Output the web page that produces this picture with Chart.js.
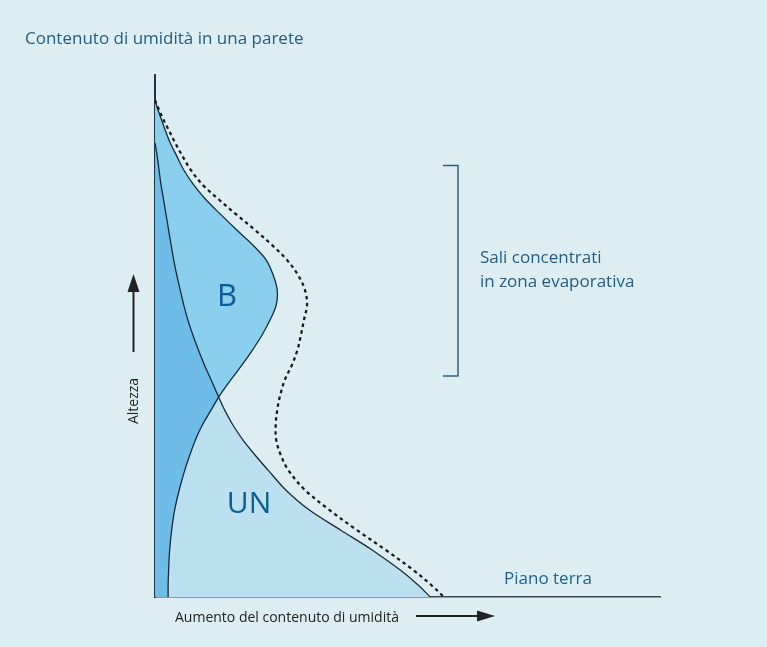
<!DOCTYPE html>
<html>
<head>
<meta charset="utf-8">
<script src="https://cdn.jsdelivr.net/npm/chart.js@4.4.1/dist/chart.umd.min.js"></script>
<style>
  html, body { margin: 0; padding: 0; background: #ddeef3; }
  #wrap { width: 767px; height: 647px; position: relative; }
  canvas { display: block; background: #ddeef3; }
</style>
</head>
<body>
<div id="wrap"><canvas id="c" width="767" height="647"></canvas></div>
<script>
// Heights (0 = ground, 100 = top of the axis)
const altezza = [95.2, 93.3, 91.4, 89.5, 87.0, 84.7, 81.8, 78.9, 76.1, 73.2, 70.3, 67.4,
  64.6, 61.7, 58.8, 55.9, 53.1, 50.2, 47.3, 44.4, 41.6, 38.3, 35.8, 33.0, 30.1, 27.2,
  24.3, 20.5, 16.7, 12.8, 9.0, 5.2, 2.3, 0];
// Moisture content, curve B (salts concentrated in evaporation zone)
const umiditaB = [0, 0.6, 1.3, 2.0, 3.0, 4.2, 5.7, 7.7, 10.1, 13.1, 16.2, 19.4,
  22.0, 23.4, 24.2, 24.0, 22.8, 21.2, 19.3, 17.2, 15.0, 12.6, 11.1, 9.4, 8.0, 6.9,
  5.9, 4.8, 3.9, 3.3, 2.9, 2.7, 2.6, 2.6];
// Moisture content, curve UN
const umiditaUN = [null, null, null, null, 0, 0.4, 0.8, 1.2, 1.7, 2.2, 2.7, 3.2,
  3.7, 4.3, 5.0, 5.7, 6.5, 7.5, 8.6, 9.8, 11.1, 12.6, 13.8, 15.4, 17.4, 19.8,
  22.4, 25.9, 30.5, 36.8, 43.0, 48.5, 52.1, 54.5];
// Total moisture content (dashed curve)
const umiditaTotale = [0, 0.8, 1.7, 2.7, 4.0, 5.3, 7.1, 9.5, 12.7, 16.2, 19.8, 23.2,
  26.1, 28.3, 29.7, 30.1, 29.5, 28.9, 28.2, 27.1, 25.7, 24.7, 24.2, 23.9, 24.0, 24.9,
  26.4, 29.7, 34.5, 40.0, 45.7, 51.1, 54.7, 57.2];

const titolo = 'Contenuto di umidità in una parete';
const etichettaY = 'Altezza';
const etichettaX = 'Aumento del contenuto di umidità';
const etichettaSuolo = 'Piano terra';
const etichettaSali = ['Sali concentrati', 'in zona evaporativa'];
const etichettaB = 'B';
const etichettaUN = 'UN';

const umiditaSovrapposta = altezza.map((h, i) =>
  umiditaUN[i] === null ? null : Math.min(umiditaB[i], umiditaUN[i]));

const toPoints = (arr) => altezza.map((h, i) => ({ x: arr[i], y: h }));

const TXT_BLUE = '#215e85';
const FONT = '"Open Sans", "Noto Sans", sans-serif';

const labelsPlugin = {
  id: 'labels',
  afterDraw(chart) {
    const ctx = chart.ctx;
    ctx.save();
    // title
    ctx.fillStyle = TXT_BLUE;
    ctx.font = '17px ' + FONT;
    ctx.textAlign = 'left';
    ctx.textBaseline = 'alphabetic';
    ctx.fillText(titolo, 25, 44);

    // Sali concentrati
    ctx.font = '17px ' + FONT;
    ctx.fillText(etichettaSali[0], 480, 263);
    ctx.fillText(etichettaSali[1], 480, 287);

    // bracket
    ctx.strokeStyle = '#2f5f80';
    ctx.lineWidth = 1.5;
    ctx.beginPath();
    ctx.moveTo(443, 165.5);
    ctx.lineTo(458, 165.5);
    ctx.lineTo(458, 376);
    ctx.lineTo(443, 376);
    ctx.stroke();

    // Piano terra
    ctx.fillStyle = '#1f6491';
    ctx.font = '17px ' + FONT;
    ctx.fillText(etichettaSuolo, 504, 584);

    // B and UN region labels
    ctx.fillStyle = '#0c5d95';
    ctx.textAlign = 'center';
    ctx.font = '31px ' + FONT;
    ctx.fillText(etichettaB, 227, 306);
    ctx.font = '30px ' + FONT;
    ctx.fillText(etichettaUN, 249, 513);

    // X axis label + arrow
    ctx.fillStyle = '#222';
    ctx.textAlign = 'left';
    ctx.font = '14px ' + FONT;
    ctx.fillText(etichettaX, 175, 622);
    ctx.strokeStyle = '#222';
    ctx.lineWidth = 2;
    ctx.beginPath();
    ctx.moveTo(416, 616);
    ctx.lineTo(482, 616);
    ctx.stroke();
    ctx.beginPath();
    ctx.moveTo(495, 616);
    ctx.lineTo(477, 610.5);
    ctx.lineTo(477, 621.5);
    ctx.closePath();
    ctx.fill();

    // Y axis label (rotated) + arrow
    ctx.save();
    ctx.translate(138, 401);
    ctx.rotate(-Math.PI / 2);
    ctx.textAlign = 'center';
    ctx.font = '14px ' + FONT;
    ctx.fillText(etichettaY, 0, 0);
    ctx.restore();
    ctx.beginPath();
    ctx.moveTo(133.5, 352);
    ctx.lineTo(133.5, 288);
    ctx.stroke();
    ctx.beginPath();
    ctx.moveTo(133.5, 274);
    ctx.lineTo(127.5, 292);
    ctx.lineTo(139.5, 292);
    ctx.closePath();
    ctx.fill();
    ctx.restore();
  }
};

function draw() {
  const ctx = document.getElementById('c').getContext('2d');
  new Chart(ctx, {
    type: 'line',
    data: {
      datasets: [
        {
          label: 'Totale',
          data: toPoints(umiditaTotale),
          borderColor: '#1b1b1b',
          borderWidth: 2.3,
          borderDash: [3.5, 3.5],
          fill: false
        },
        {
          label: 'Sovrapposizione',
          data: toPoints(umiditaSovrapposta),
          borderColor: 'rgba(0,0,0,0)',
          borderWidth: 0,
          backgroundColor: '#6dbde8',
          fill: 'origin'
        },
        {
          label: 'B',
          data: toPoints(umiditaB),
          borderColor: '#1a2a38',
          borderWidth: 1.3,
          backgroundColor: '#8bcfee',
          fill: 'origin'
        },
        {
          label: 'UN',
          data: toPoints(umiditaUN),
          borderColor: '#1a2a38',
          borderWidth: 1.3,
          backgroundColor: '#bde0f0',
          fill: 'origin'
        }
      ]
    },
    options: {
      indexAxis: 'y',
      responsive: false,
      animation: false,
      events: [],
      devicePixelRatio: 1,
      layout: { padding: { left: 155, right: 107, top: 75, bottom: 50 } },
      elements: {
        point: { radius: 0 },
        line: { tension: 0.35, capBezierPoints: true }
      },
      scales: {
        x: {
          type: 'linear', min: 0, max: 100,
          grid: { display: false, drawTicks: false },
          ticks: { display: false },
          border: { display: true, color: '#3d4954', width: 1.5 }
        },
        y: {
          type: 'linear', min: 0, max: 100,
          grid: { display: false, drawTicks: false },
          ticks: { display: false },
          border: { display: true, color: '#1f3447', width: 2 }
        }
      },
      plugins: {
        legend: { display: false },
        tooltip: { enabled: false },
        title: { display: false },
        filler: { drawTime: 'beforeDatasetsDraw' }
      }
    },
    plugins: [labelsPlugin]
  });
}

if (document.fonts && document.fonts.load) {
  Promise.all([
    document.fonts.load('17px "Open Sans"'),
    document.fonts.load('31px "Open Sans"')
  ]).then(draw, draw);
} else {
  draw();
}
</script>
</body>
</html>
